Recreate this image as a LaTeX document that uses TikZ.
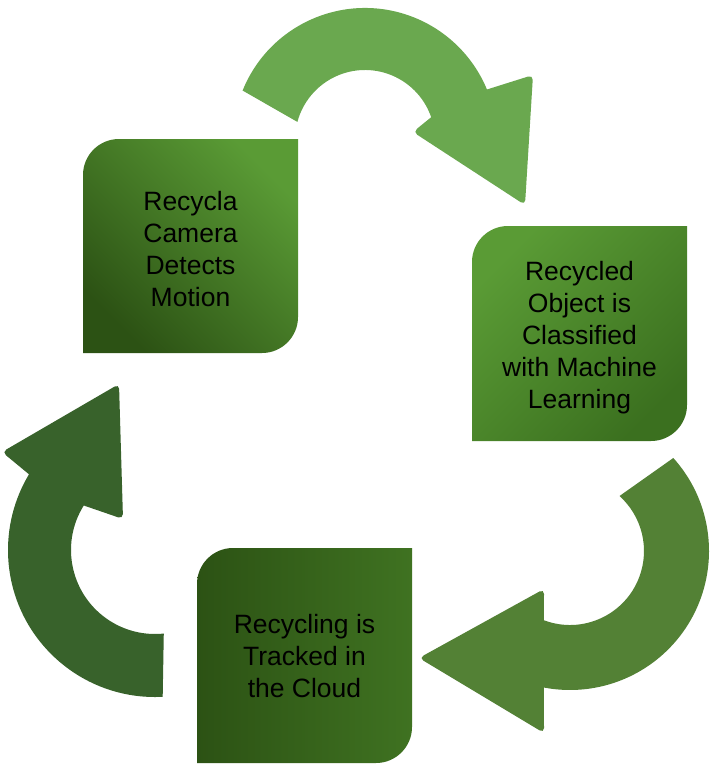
\documentclass[tikz,border=0pt]{standalone}
\usepackage{fontspec}
\setmainfont{Liberation Sans}
\usetikzlibrary{calc}
\definecolor{arrA}{HTML}{6AA84F}
\definecolor{arrB}{HTML}{538135}
\definecolor{arrC}{HTML}{38622B}
\definecolor{boxlight}{HTML}{5A9B35}
\definecolor{boxdark}{HTML}{2C5214}
\definecolor{boxmidA}{HTML}{3B701F}
\definecolor{boxmidB}{HTML}{3F7221}
\begin{document}
\begin{tikzpicture}[x=1pt,y=-1pt,
  boxtext/.style={font=\fontsize{26.5}{32}\selectfont, align=center, text=black, inner sep=0pt}]
\fill[white] (0,0) rectangle (714,771);
\useasboundingbox (0,0) rectangle (714,771);

% Box 1 (top left)
\shade[top color=boxlight, bottom color=boxdark, shading angle=-45]
  (83,353) -- (83,175) arc[start angle=180,end angle=270,radius=36]
  -- (298,139) -- (298,317) arc[start angle=0,end angle=90,radius=36] -- cycle;
% Box 2 (right)
\shade[top color=boxlight, bottom color=boxmidA, shading angle=45]
  (472,441) -- (472,262) arc[start angle=180,end angle=270,radius=36]
  -- (687,226) -- (687,405) arc[start angle=0,end angle=90,radius=36] -- cycle;
% Box 3 (bottom)
\shade[left color=boxdark, right color=boxmidB]
  (197,763) -- (197,584) arc[start angle=180,end angle=270,radius=36]
  -- (412,548) -- (412,727) arc[start angle=0,end angle=90,radius=36] -- cycle;

\node[boxtext] (b1) at (190.5,249) {Recycla\\Camera\\Detects\\Motion};
\node[boxtext] (b2) at (579.5,337.5) {Recycled\\Object is\\Classified\\with Machine\\Learning};
\node[boxtext] (b3) at (304.5,656.5) {Recycling is\\Tracked in\\the Cloud};

% Top arrow
\fill[arrA] ($(365,140)+(-158:132)$) arc[start angle=-158,end angle=-22.5,radius=132]
  [rounded corners=5pt] -- (533,75) -- (525,205) -- (413,132) [sharp corners]
  -- ($(365,140)+(-19:70)$) arc[start angle=-19,end angle=-165,radius=70] -- cycle;

% Right arrow
\fill[arrB] ($(570,551)+(-42:139)$) arc[start angle=-42,end angle=100.8,radius=139]
  [rounded corners=5pt] -- (544,733) -- (419,658) -- (544,589) [sharp corners]
  -- ($(570,551)+(110.6:74)$) arc[start angle=110.6,end angle=-48,radius=74] -- cycle;

% Left arrow
\fill[arrC] ($(155,550)+(87:147)$) arc[start angle=87,end angle=211,radius=147]
  [rounded corners=5pt] -- (2,452) -- (119,384) -- (123,519) [sharp corners]
  -- ($(155,550)+(212:84)$) arc[start angle=212,end angle=84,radius=84] -- cycle;
\end{tikzpicture}
\end{document}
